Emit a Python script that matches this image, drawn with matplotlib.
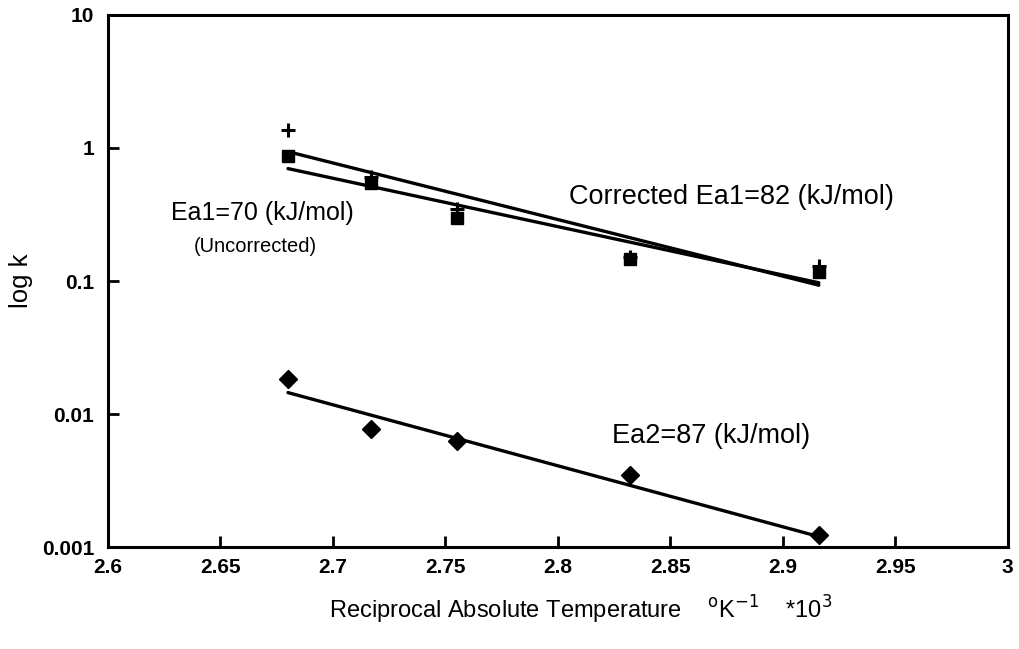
import matplotlib as mpl
mpl.use('Agg')
import matplotlib.pyplot as plt
from matplotlib.ticker import FixedLocator, NullLocator

plt.rcParams['font.family'] = ['Liberation Sans', 'DejaVu Sans']

# reciprocal temperature, 1000/T
inv_t = [2.680, 2.717, 2.755, 2.832, 2.916]

# rate constants
k1_uncorr = [0.87, 0.55, 0.30, 0.146, 0.117]
k1_corr = [1.36, 0.60, 0.35, 0.152, 0.13]
k2 = [0.0183, 0.0077, 0.0063, 0.0035, 0.00123]

# fitted Arrhenius lines (endpoints)
fit1_corr_x = [2.682, 2.916]
fit1_corr_y = [0.92, 0.093]
fit1_unc_x = [2.680, 2.916]
fit1_unc_y = [0.70, 0.097]
fit2_x = [2.680, 2.916]
fit2_y = [0.0145, 0.0012]

xticks = [2.6, 2.65, 2.7, 2.75, 2.8, 2.85, 2.9, 2.95, 3.0]
xticklabels = ['2.6', '2.65', '2.7', '2.75', '2.8', '2.85', '2.9', '2.95', '3']
yticks = [0.001, 0.01, 0.1, 1, 10]
yticklabels = ['0.001', '0.01', '0.1', '1', '10']

fig = plt.figure(figsize=(10.19, 6.49), dpi=100)
ax = fig.add_axes([0.106, 0.157, 0.883, 0.820])

lw = 2.4
ax.plot(fit1_corr_x, fit1_corr_y, color='black', lw=lw, solid_capstyle='round')
ax.plot(fit1_unc_x, fit1_unc_y, color='black', lw=lw, solid_capstyle='round')
ax.plot(fit2_x, fit2_y, color='black', lw=lw, solid_capstyle='round')

ax.plot(inv_t, k1_corr, linestyle='none', marker='+', ms=10, mew=2.2, color='black')
ax.plot(inv_t, k1_uncorr, linestyle='none', marker='s', ms=9, color='black')
ax.plot(inv_t, k2, linestyle='none', marker='D', ms=9, color='black')

ax.set_yscale('log')
ax.set_xlim(2.6, 3.0)
ax.set_ylim(0.001, 10)

ax.xaxis.set_major_locator(FixedLocator(xticks))
ax.set_xticklabels(xticklabels)
ax.yaxis.set_major_locator(FixedLocator(yticks))
ax.yaxis.set_minor_locator(NullLocator())
ax.set_yticklabels(yticklabels)

ax.tick_params(axis='both', which='major', direction='in', length=8, width=2,
               labelsize=15, top=False, right=False)
ax.tick_params(axis='y', pad=10)
ax.tick_params(axis='x', pad=8)
for lbl in ax.get_xticklabels() + ax.get_yticklabels():
    lbl.set_fontweight('bold')
for sp in ax.spines.values():
    sp.set_linewidth(2.2)

ax.set_ylabel('log k', fontsize=18.5, labelpad=6)
ax.set_xlabel('Reciprocal Absolute Temperature    $^{\\mathrm{o}}$K$^{-1}$    *10$^{3}$',
              fontsize=17)
ax.xaxis.set_label_coords(0.525, -0.088)

ax.text(2.805, 0.43, 'Corrected Ea1=82 (kJ/mol)', fontsize=19.5, ha='left', va='center')
ax.text(2.628, 0.325, 'Ea1=70 (kJ/mol)', fontsize=18, ha='left', va='center')
ax.text(2.638, 0.183, '(Uncorrected)', fontsize=14.5, ha='left', va='center')
ax.text(2.824, 0.0068, 'Ea2=87 (kJ/mol)', fontsize=19.5, ha='left', va='center')

fig.savefig('out.png', dpi=100)
